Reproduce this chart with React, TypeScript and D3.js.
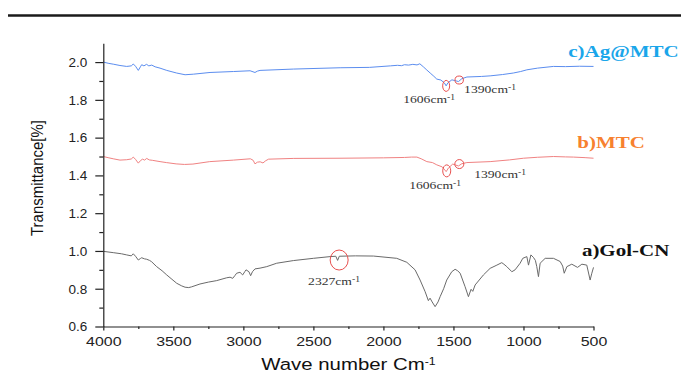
import { useEffect, useRef } from "react";
import * as d3 from "d3";

// c) Ag@MTC spectrum (blue)
const agWave = [4000, 3960, 3929, 3881, 3833, 3800, 3786, 3770, 3750, 3735, 3726, 3710, 3691, 3675, 3654, 3630, 3595, 3547, 3476, 3416, 3357, 3238, 3071, 2952, 2917, 2900, 2881, 2643, 2309, 2100, 1950, 1900, 1870, 1850, 1820, 1790, 1760, 1740, 1715, 1690, 1666, 1640, 1619, 1590, 1565, 1552, 1540, 1511, 1490, 1464, 1440, 1404, 1300, 1238, 1150, 1073, 1020, 976, 900, 786, 700, 600, 500];
const agTrans = [2.0, 1.993, 1.989, 1.982, 1.977, 1.98, 1.99, 1.978, 1.956, 1.975, 1.986, 1.98, 1.988, 1.98, 1.984, 1.975, 1.968, 1.956, 1.942, 1.933, 1.936, 1.945, 1.95, 1.954, 1.945, 1.952, 1.956, 1.963, 1.97, 1.972, 1.98, 1.983, 1.981, 1.986, 1.984, 1.988, 1.985, 1.991, 1.975, 1.958, 1.942, 1.925, 1.91, 1.905, 1.89, 1.874, 1.89, 1.906, 1.902, 1.897, 1.912, 1.921, 1.924, 1.927, 1.934, 1.942, 1.95, 1.959, 1.968, 1.977, 1.976, 1.978, 1.977];

// b) MTC spectrum (red)
const mtcWave = [4000, 3960, 3929, 3881, 3833, 3800, 3786, 3770, 3750, 3735, 3720, 3705, 3690, 3672, 3650, 3595, 3550, 3480, 3420, 3360, 3240, 3070, 2950, 2930, 2917, 2900, 2880, 2860, 2840, 2820, 2640, 2310, 2000, 1850, 1800, 1761, 1730, 1690, 1650, 1619, 1580, 1552, 1535, 1505, 1485, 1464, 1440, 1404, 1238, 1100, 1000, 900, 786, 700, 643, 560, 500];
const mtcTrans = [1.5, 1.493, 1.488, 1.481, 1.483, 1.487, 1.497, 1.485, 1.465, 1.478, 1.486, 1.481, 1.49, 1.482, 1.48, 1.473, 1.468, 1.461, 1.458, 1.46, 1.473, 1.481, 1.488, 1.48, 1.461, 1.47, 1.472, 1.466, 1.478, 1.486, 1.49, 1.491, 1.493, 1.495, 1.497, 1.497, 1.488, 1.473, 1.468, 1.456, 1.445, 1.42, 1.44, 1.46, 1.455, 1.45, 1.462, 1.468, 1.473, 1.482, 1.491, 1.496, 1.5, 1.498, 1.497, 1.494, 1.491];

// a) Gol-CN spectrum (grey)
const golWave = [4000, 3929, 3870, 3833, 3800, 3786, 3770, 3750, 3735, 3726, 3705, 3690, 3670, 3655, 3619, 3580, 3547, 3510, 3476, 3440, 3416, 3390, 3369, 3310, 3250, 3190, 3119, 3095, 3076, 3060, 3048, 3024, 3005, 2990, 2981, 2960, 2948, 2935, 2917, 2881, 2833, 2762, 2643, 2500, 2381, 2340, 2327, 2315, 2200, 2071, 1905, 1833, 1774, 1738, 1702, 1679, 1667, 1652, 1631, 1610, 1595, 1570, 1548, 1512, 1488, 1470, 1452, 1417, 1393, 1374, 1362, 1345, 1286, 1238, 1190, 1155, 1140, 1119, 1083, 1060, 1024, 1005, 976, 964, 947, 929, 915, 905, 893, 881, 845, 786, 738, 720, 709, 690, 655, 614, 583, 548, 524, 512, 500];
const golTrans = [0.998, 0.991, 0.985, 0.979, 0.974, 0.985, 0.972, 0.952, 0.96, 0.964, 0.958, 0.956, 0.95, 0.943, 0.917, 0.895, 0.873, 0.85, 0.829, 0.815, 0.808, 0.806, 0.81, 0.825, 0.835, 0.843, 0.858, 0.861, 0.855, 0.87, 0.882, 0.887, 0.873, 0.89, 0.9, 0.89, 0.869, 0.89, 0.905, 0.909, 0.917, 0.935, 0.949, 0.961, 0.97, 0.972, 0.95, 0.972, 0.974, 0.973, 0.961, 0.94, 0.9, 0.846, 0.784, 0.737, 0.75, 0.73, 0.705, 0.73, 0.758, 0.8, 0.846, 0.89, 0.903, 0.895, 0.882, 0.811, 0.758, 0.797, 0.786, 0.82, 0.873, 0.908, 0.925, 0.938, 0.93, 0.917, 0.89, 0.9, 0.935, 0.961, 0.97, 0.925, 0.979, 0.966, 0.95, 0.917, 0.864, 0.935, 0.961, 0.961, 0.944, 0.92, 0.882, 0.917, 0.93, 0.913, 0.93, 0.925, 0.846, 0.882, 0.913];

const xTicks = [4000, 3500, 3000, 2500, 2000, 1500, 1000, 500];
const xMinor = [3750, 3250, 2750, 2250, 1750, 1250, 750];
const yTicks = [0.6, 0.8, 1.0, 1.2, 1.4, 1.6, 1.8, 2.0];
const yMinor = [0.7, 0.9, 1.1, 1.3, 1.5, 1.7, 1.9];

const seriesNames = ["c)Ag@MTC", "b)MTC", "a)Gol-CN"];
const seriesColors = ["#5b8def", "#f08282", "#6a6a6a"];
const labelColors = ["#1aa6ea", "#f7812f", "#111"];
const labelWave = [681, 616, 583];
const labelTrans = [2.028, 1.544, 0.974];

// peak markers: wavenumber / transmittance of each red ring
const ringWave = [1552, 1459, 1548, 1458, 2316];
const ringTrans = [1.874, 1.905, 1.424, 1.46, 0.952];
const ringRx = [3.5, 4.2, 4, 4.5, 9];
const ringRy = [5.5, 4, 6, 4.5, 10];

// peak labels
const peakText = ["1606cm", "1390cm", "1606cm", "1390cm", "2327cm"];
const peakWave = [1859, 1424, 1816, 1352, 2538];
const peakTrans = [1.784, 1.837, 1.329, 1.387, 0.82];

export default function App() {
  const svgRef = useRef<SVGSVGElement>(null);

  useEffect(() => {
    if (!svgRef.current) return;
    const svg = d3.select(svgRef.current);
    svg.selectAll("*").remove();

    const x = d3.scaleLinear().domain([4000, 500]).range([103.3, 593.5]);
    const y = d3.scaleLinear().domain([0.6, 2.1]).range([326.5, 43.2]);

    // top rule
    svg.append("line")
      .attr("x1", 8).attr("x2", 681).attr("y1", 15.5).attr("y2", 15.5)
      .attr("stroke", "#1a1a1a").attr("stroke-width", 2.6);

    const sans = "'Liberation Sans', Arial, sans-serif";
    const serif = "'Liberation Serif', 'Times New Roman', serif";

    // spectra
    const waves = [agWave, mtcWave, golWave];
    const trans = [agTrans, mtcTrans, golTrans];
    const line = d3.line<[number, number]>().x((d) => x(d[0])).y((d) => y(d[1]));
    waves.forEach((w, i) => {
      const pts = w.map((v, j) => [v, trans[i][j]] as [number, number]);
      svg.append("path")
        .attr("d", line(pts))
        .attr("fill", "none")
        .attr("stroke", seriesColors[i])
        .attr("stroke-width", 1)
        .attr("stroke-linejoin", "round");
    });

    // x axis
    const gx = svg.append("g").attr("transform", `translate(0,${y(0.6)})`);
    gx.call(d3.axisBottom(x).tickValues(xTicks).tickSize(4).tickSizeOuter(0).tickPadding(6).tickFormat(d3.format("d")));
    gx.selectAll("text")
      .attr("font-family", sans).attr("font-size", 13.5).attr("fill", "#222")
      .attr("transform", "scale(1.18,1)");
    const gxm = svg.append("g").attr("transform", `translate(0,${y(0.6)})`);
    gxm.call(d3.axisBottom(x).tickValues(xMinor).tickSize(2.5).tickFormat(() => ""));
    gxm.select(".domain").remove();

    // y axis
    const gy = svg.append("g").attr("transform", `translate(${x(4000)},0)`);
    gy.call(d3.axisLeft(y).tickValues(yTicks).tickSize(8).tickSizeOuter(0).tickPadding(8).tickFormat(d3.format(".1f")));
    gy.selectAll("text")
      .attr("font-family", sans).attr("font-size", 13.5).attr("fill", "#222");
    const gym = svg.append("g").attr("transform", `translate(${x(4000)},0)`);
    gym.call(d3.axisLeft(y).tickValues(yMinor).tickSize(4).tickFormat(() => ""));
    gym.select(".domain").remove();

    svg.selectAll(".domain, .tick line").attr("stroke", "#222").attr("stroke-width", 1.2);

    // axis titles
    const xt = svg.append("text")
      .attr("transform", `translate(${(x(4000) + x(500)) / 2},370) scale(1.2,1)`)
      .attr("text-anchor", "middle")
      .attr("font-family", sans).attr("font-size", 17).attr("fill", "#111");
    xt.append("tspan").text("Wave number Cm");
    xt.append("tspan").attr("dy", "-0.45em").attr("font-size", "0.6em").text("-1");

    svg.append("text")
      .attr("transform", "translate(43,178) rotate(-90) scale(1,1.1)")
      .attr("text-anchor", "middle")
      .attr("font-family", sans).attr("font-size", 15).attr("fill", "#111")
      .text("Transmittance[%]");

    // series labels
    seriesNames.forEach((name, i) => {
      svg.append("text")
        .attr("transform", `translate(${x(labelWave[i])},${y(labelTrans[i])}) scale(1.33,1)`)
        .attr("font-family", serif).attr("font-size", 15.8).attr("font-weight", "bold")
        .attr("fill", labelColors[i])
        .text(name);
    });

    // peak rings
    ringWave.forEach((w, i) => {
      svg.append("ellipse")
        .attr("cx", x(w)).attr("cy", y(ringTrans[i]))
        .attr("rx", ringRx[i]).attr("ry", ringRy[i])
        .attr("fill", "none").attr("stroke", "#e8504f").attr("stroke-width", 1);
    });

    // peak labels
    peakText.forEach((t, i) => {
      const txt = svg.append("text")
        .attr("transform", `translate(${x(peakWave[i])},${y(peakTrans[i])}) scale(1.3,1)`)
        .attr("font-family", serif).attr("font-size", 10.5).attr("fill", "#333");
      txt.append("tspan").text(t);
      txt.append("tspan").attr("dy", "-0.4em").attr("font-size", "0.7em").text("-1");
    });
  }, []);

  return (
    <svg
      ref={svgRef}
      width={681}
      height={380}
      style={{ position: "absolute", left: 0, top: 0, display: "block", background: "#fff" }}
    />
  );
}
